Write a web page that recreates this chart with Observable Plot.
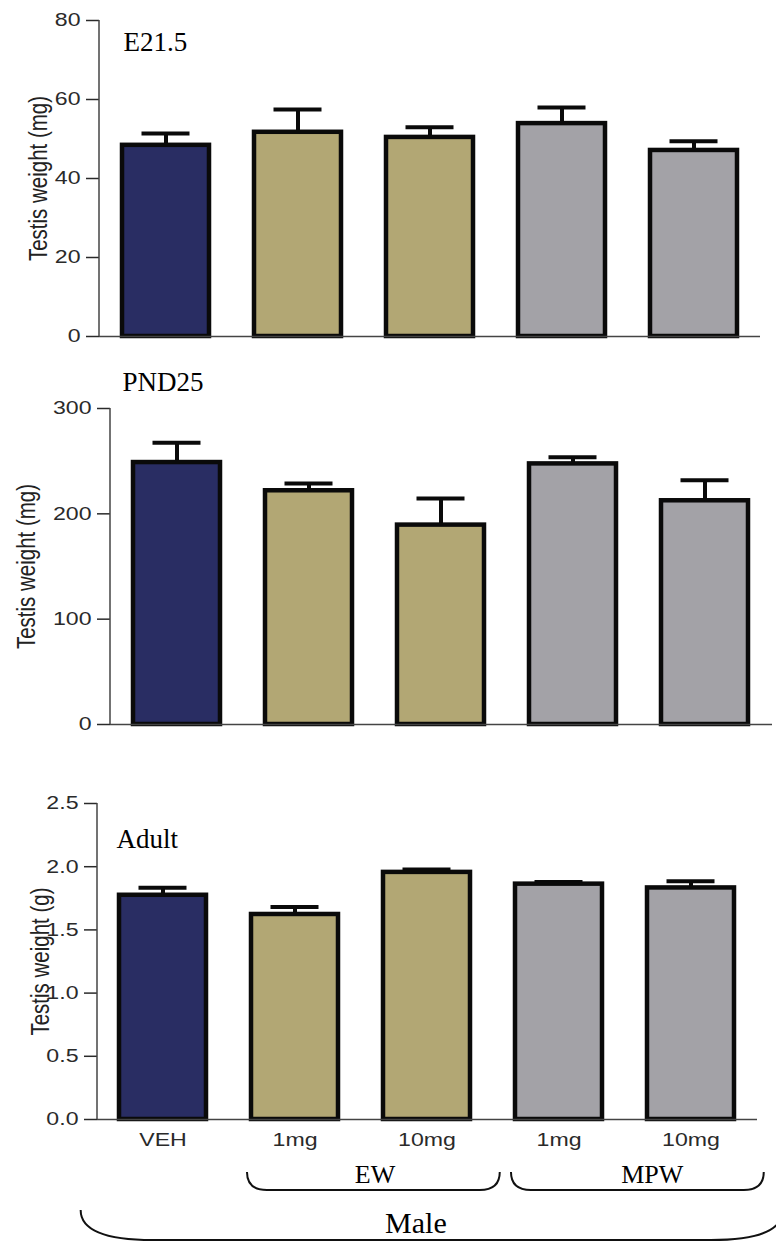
<!DOCTYPE html>
<html>
<head>
<meta charset="utf-8">
<script src="https://cdn.jsdelivr.net/npm/d3@7"></script>
<script src="https://cdn.jsdelivr.net/npm/@observablehq/plot@0.6"></script>
<style>
  html, body { margin: 0; padding: 0; background: #fff; overflow: hidden; }
  #chart { width: 776px; }
  #chart svg { display: block; }
</style>
</head>
<body>
<div id="chart"></div>
<script>
// ---- data ----
const groups = ["VEH", "EW 1mg", "EW 10mg", "MPW 1mg", "MPW 10mg"];
const tickLabels = ["VEH", "1mg", "10mg", "1mg", "10mg"];
const treatments = ["VEH", "EW", "EW", "MPW", "MPW"];
const treatmentNames = ["VEH", "EW", "MPW"];
const treatmentColors = ["#292d63", "#b2a774", "#a3a2a7"];

const e21Mean = [48.4, 51.7, 50.4, 53.9, 47.1];
const e21Err = [3.0, 5.8, 2.6, 4.1, 2.3];
const pnd25Mean = [248.7, 221.9, 189.3, 247.4, 212.4];
const pnd25Err = [18.9, 6.9, 25.3, 6.2, 19.6];
const adultMean = [1.774, 1.622, 1.955, 1.862, 1.832];
const adultErr = [0.060, 0.060, 0.023, 0.016, 0.053];

const e21Ticks = [0, 20, 40, 60, 80];
const pnd25Ticks = [0, 100, 200, 300];
const adultTicks = [0, 0.5, 1.0, 1.5, 2.0, 2.5];

const brackets = [
  {label: "EW", from: "EW 1mg", to: "EW 10mg"},
  {label: "MPW", from: "MPW 1mg", to: "MPW 10mg"}
];
const outerLabel = "Male";

// ---- layout ----
const panels = [
  {title: "E21.5", yLabel: "Testis weight (mg)", mean: e21Mean, err: e21Err, ticks: e21Ticks, fmt: d3.format("d"),
   height: 350, mt: 20, mb: 14, ml: 99, mr: 16, titleDx: 24, titleDy: 30, labelDx: -61.5, xAxis: false},
  {title: "PND25", yLabel: "Testis weight (mg)", mean: pnd25Mean, err: pnd25Err, ticks: pnd25Ticks, fmt: d3.format("d"),
   height: 410, mt: 58, mb: 36, ml: 110, mr: 4, titleDx: 12, titleDy: -17.3, labelDx: -84, xAxis: false},
  {title: "Adult", yLabel: "Testis weight (g)", mean: adultMean, err: adultErr, ticks: adultTicks, fmt: d3.format(".1f"),
   height: 482, mt: 43, mb: 123, ml: 97, mr: 19, titleDx: 19, titleDy: 44, labelDx: -57, xAxis: true}
];

const sansFont = "'Liberation Sans', Arial, Helvetica, sans-serif";
const serifFont = "'Liberation Serif', 'Times New Roman', serif";
const container = document.getElementById("chart");

function stretch(el, sx, sy) {
  el.setAttribute("transform", (el.getAttribute("transform") || "") + ` scale(${sx},${sy})`);
}

panels.forEach((p) => {
  const data = groups.map((g, i) => ({group: g, treatment: treatments[i], mean: p.mean[i], err: p.err[i]}));
  const top = p.ticks[p.ticks.length - 1];
  const marks = [
    Plot.ruleX(data, {x: "group", y1: "mean", y2: (d) => d.mean + d.err, stroke: "#0a0a0a", strokeWidth: 4}),
    Plot.tickY(data, {x: "group", y: (d) => d.mean + d.err, stroke: "#0a0a0a", strokeWidth: 4, insetLeft: 19.5, insetRight: 19.5}),
    Plot.barY(data, {x: "group", y: "mean", fill: "treatment", stroke: "#0a0a0a", strokeWidth: 4.5}),
    Plot.ruleY([0], {stroke: "#444", strokeWidth: 1.5}),
    Plot.axisY({ticks: p.ticks, tickFormat: p.fmt, tickSize: 13, tickPadding: 6, label: null,
      fontSize: 18.5, color: "#2a2a2a", strokeWidth: 1.5}),
    Plot.text([p.title], {frameAnchor: "top-left", dx: p.titleDx, dy: p.titleDy, textAnchor: "start",
      lineAnchor: "bottom", fontFamily: serifFont, fontSize: 27, fill: "#000"}),
    Plot.text([p.yLabel], {frameAnchor: "left", rotate: -90, dx: p.labelDx, textAnchor: "middle",
      lineAnchor: "middle", fontSize: 20.5, fill: "#222"})
  ];
  if (p.xAxis) {
    marks.push(Plot.axisX({tickSize: 0, tickPadding: 13, label: null, fontSize: 18.5, color: "#2a2a2a",
      tickFormat: (d) => tickLabels[groups.indexOf(d)]}));
  }
  const plot = Plot.plot({
    width: 776,
    height: p.height,
    marginTop: p.mt,
    marginBottom: p.mb,
    marginLeft: p.ml,
    marginRight: p.mr,
    style: {background: "#fff", fontFamily: sansFont, overflow: "visible"},
    x: {domain: groups, paddingInner: 0.34, paddingOuter: 0.17, axis: null, label: null},
    y: {domain: [0, top], axis: null, label: null},
    color: {domain: treatmentNames, range: treatmentColors},
    marks
  });

  // stretch sans-serif texts horizontally like the original figure
  plot.querySelectorAll('g[aria-label$="tick label"] text').forEach((t) => stretch(t, 1.25, 1));
  plot.querySelectorAll('text').forEach((t) => {
    if (t.textContent === p.yLabel) stretch(t, 1, 1.3);
  });

  const sx = plot.scale("x");
  const sy = plot.scale("y");
  const svg = d3.select(plot);
  // y-axis domain line
  svg.append("line")
    .attr("x1", sx.range[0]).attr("x2", sx.range[0])
    .attr("y1", sy.range[0]).attr("y2", sy.range[1])
    .attr("stroke", "#444").attr("stroke-width", 1.5);

  if (p.xAxis) {
    const center = (g) => sx.apply(g) + sx.bandwidth / 2;
    const step = sx.step;
    const y0 = sy.range[0];
    const bracketPath = (L, R, yt, yb, r) =>
      `M${L},${yt} Q${L},${yb} ${L + r},${yb} H${R - r} Q${R},${yb} ${R},${yt}`;
    brackets.forEach((b, i) => {
      const L = center(b.from) - 0.36 * step;
      const R = center(b.to) + 0.555 * step;
      svg.append("path").attr("d", bracketPath(L, R, y0 + 53, y0 + 71, 20))
        .attr("fill", "none").attr("stroke", "#111").attr("stroke-width", 2);
      const mid = (center(b.from) + center(b.to)) / 2 + (i === 0 ? 0.11 : 0.21) * step;
      svg.append("text").attr("x", mid).attr("y", y0 + 64).attr("text-anchor", "middle")
        .attr("font-family", serifFont).attr("font-size", 26).attr("fill", "#000").text(b.label);
    });
    const L = center(groups[0]) - 0.62 * step;
    const R = center(groups[groups.length - 1]) + 0.7 * step;
    svg.append("path").attr("d", bracketPath(L, R, y0 + 91, y0 + 121, 72))
      .attr("fill", "none").attr("stroke", "#111").attr("stroke-width", 2);
    svg.append("text").attr("x", (L + R) / 2 - 0.12 * step).attr("y", y0 + 114).attr("text-anchor", "middle")
      .attr("font-family", serifFont).attr("font-size", 30).attr("fill", "#000").text(outerLabel);
  }
  container.appendChild(plot);
});
</script>
</body>
</html>
